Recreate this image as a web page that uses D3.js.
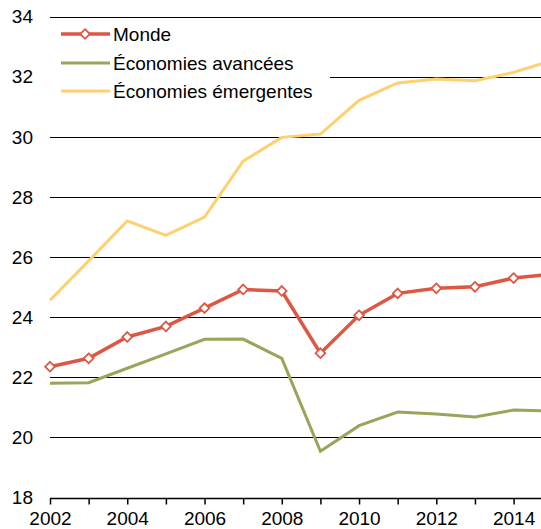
<!DOCTYPE html>
<html><head><meta charset="utf-8">
<script src="https://cdn.jsdelivr.net/npm/d3@7"></script>
<style>html,body{margin:0;padding:0;background:#fff;}svg{display:block;font-family:"Liberation Sans",Arial,sans-serif;}</style>
</head><body>
<script>
const years = [2002,2003,2004,2005,2006,2007,2008,2009,2010,2011,2012,2013,2014,2015];
const monde = [22.35,22.63,23.34,23.69,24.30,24.92,24.87,22.80,24.06,24.79,24.96,25.01,25.30,25.43];
const avancees = [21.80,21.82,22.30,22.78,23.26,23.27,22.63,19.54,20.39,20.84,20.78,20.68,20.91,20.87];
const emergentes = [24.56,25.87,27.20,26.72,27.33,29.19,29.98,30.09,31.21,31.79,31.92,31.86,32.14,32.54];
const yTicks = [18,20,22,24,26,28,30,32,34];
const xLabels = [2002,2004,2006,2008,2010,2012,2014];
const seriesNames = ["Monde","Économies avancées","Économies émergentes"];
const colors = ["#DD5744","#9DA35A","#FFD06E"];

const W=541,H=529,FS=19;
const svg=d3.select("body").append("svg").attr("width",W).attr("height",H);
const x=d3.scaleLinear().domain([2002,2015]).range([50,552.2]);
const y=d3.scaleLinear().domain([18,34]).range([497.5,16.5]);

// gridlines
svg.append("g").selectAll("line").data(yTicks.filter(d=>d>18)).join("line")
  .attr("x1",50).attr("x2",W).attr("y1",d=>Math.round(y(d))+0.5).attr("y2",d=>Math.round(y(d))+0.5)
  .attr("stroke","#000").attr("stroke-width",1);

// y labels
svg.append("g").selectAll("text").data(yTicks).join("text")
  .attr("x",33).attr("y",d=>y(d)).attr("dy","0.36em").attr("text-anchor","end")
  .attr("font-size",FS).attr("fill","#000").text(d=>d);

// x axis
const xAxis=d3.axisBottom(x).tickValues(years.filter(d=>d<=2014)).tickSize(6).tickFormat(d=>xLabels.includes(d)?d:"");
const gx=svg.append("g").attr("transform",`translate(0,${Math.round(y(18))+0.5})`).call(xAxis);
gx.select(".domain").attr("d",`M50,0H${W}`).attr("stroke","#000").attr("stroke-width",1.5);
gx.selectAll(".tick line").attr("stroke","#000").attr("stroke-width",1.5);
gx.selectAll(".tick text").attr("font-size",FS).attr("fill","#000").attr("font-family","Liberation Sans, Arial, sans-serif").attr("y",13).attr("dy","0.71em");

// legend background
svg.append("rect").attr("x",46).attr("y",20).attr("width",284).attr("height",86).attr("fill","#fff");

const line=d3.line().x((d,i)=>x(years[i])).y(d=>y(d));
const data=[monde,avancees,emergentes];
[2,1,0].forEach(k=>{
  svg.append("path").datum(data[k]).attr("d",line).attr("fill","none")
    .attr("stroke",colors[k]).attr("stroke-width",k===0?3.5:3).attr("stroke-linejoin","miter");
});
const diamond=d3.symbol().type(d3.symbolDiamond2).size(60);
svg.append("g").selectAll("path").data(monde).join("path")
  .attr("d",diamond).attr("transform",(d,i)=>`translate(${x(years[i])},${y(d)})`)
  .attr("fill","#fff").attr("stroke",colors[0]).attr("stroke-width",1.8);

// legend
const ly=[34,63,91];
seriesNames.forEach((n,k)=>{
  svg.append("line").attr("x1",61).attr("x2",110).attr("y1",ly[k]).attr("y2",ly[k])
    .attr("stroke",colors[k]).attr("stroke-width",k===0?3.5:3);
  if(k===0) svg.append("path").attr("d",diamond).attr("transform",`translate(85,${ly[k]})`)
    .attr("fill","#fff").attr("stroke",colors[0]).attr("stroke-width",1.8);
  svg.append("text").attr("x",113).attr("y",ly[k]).attr("dy","0.36em").attr("font-size",FS).attr("fill","#000").text(n);
});
</script>
</body></html>
